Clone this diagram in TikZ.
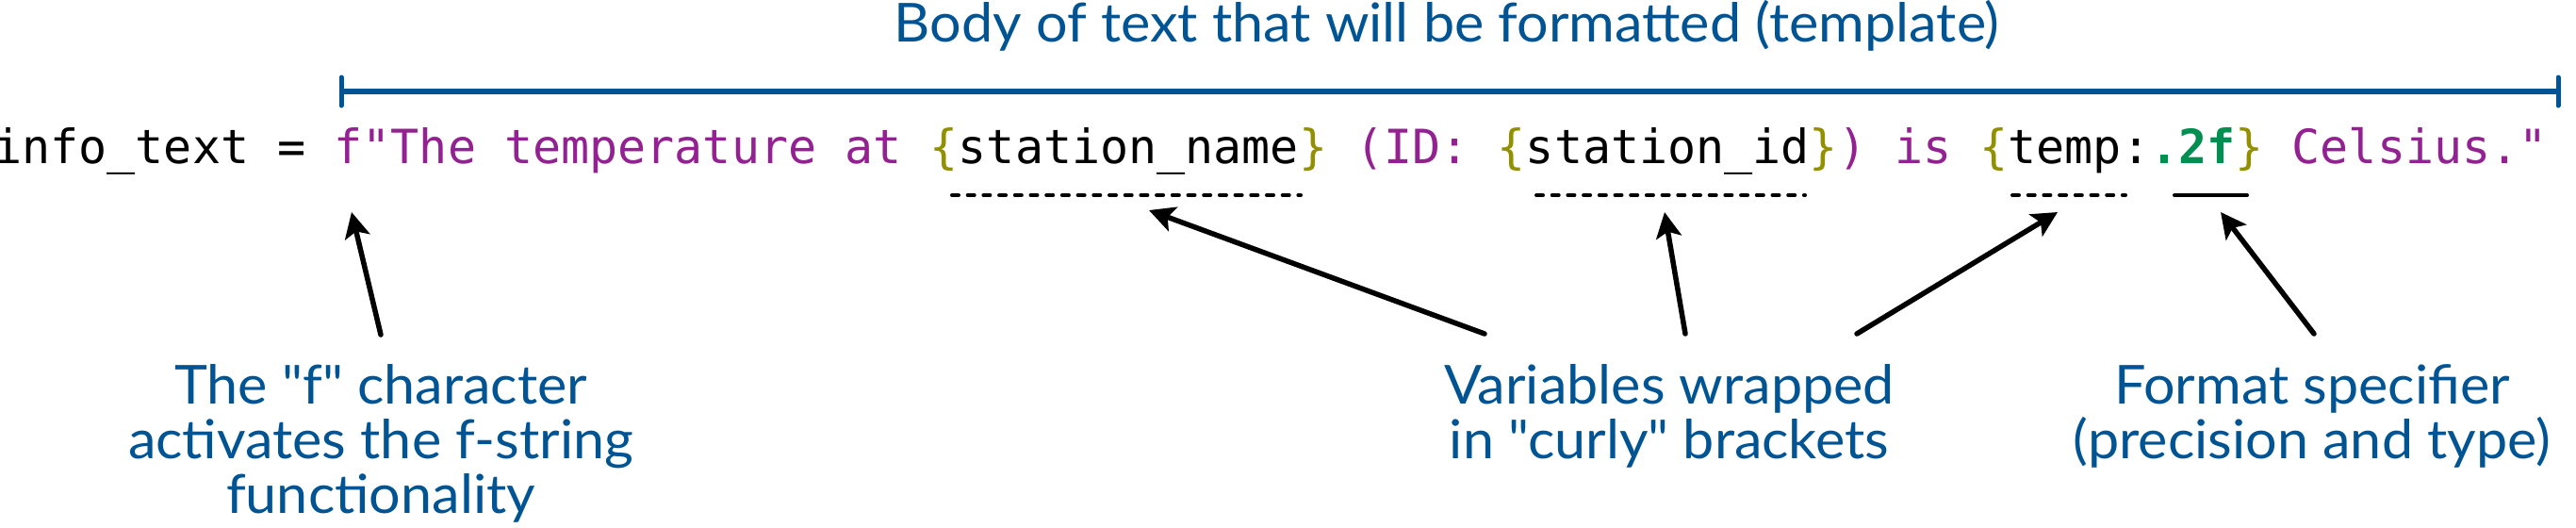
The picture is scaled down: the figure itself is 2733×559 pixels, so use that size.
\documentclass[tikz,border=0pt]{standalone}
\usepackage{fontspec}
\setmainfont[FakeStretch=1.04,Ligatures=TeXOff]{Lato}
\setmonofont{DejaVu Sans Mono}
\usetikzlibrary{arrows.meta,calc}
\definecolor{ocean}{RGB}{0,84,147}
\definecolor{plum}{RGB}{148,33,146}
\definecolor{olivebr}{RGB}{146,144,0}
\definecolor{clover}{RGB}{0,143,81}
\newcommand{\cstr}[1]{\textcolor{plum}{#1}}
\newcommand{\cbr}[1]{\textcolor{olivebr}{#1}}
\tikzset{
  lbl/.style={text=ocean, align=center, inner sep=0pt, anchor=base,
    font=\fontsize{28.5pt}{29pt}\selectfont,
    execute at begin node={\baselineskip=29pt\lineskiplimit=-100pt}},
  codetext/.style={inner sep=0pt, anchor=base west,
    font=\fontsize{25pt}{30pt}\selectfont\ttfamily},
  conn/.style={draw=black, line width=2.75pt, line cap=round,
    -{Stealth[length=13.5pt,width=13.5pt,inset=3pt]}},
  dotline/.style={draw=black, line width=2pt, line cap=round,
    dash pattern=on 3.5pt off 4.85pt},
  solidline/.style={draw=black, line width=2pt, line cap=round},
  spanbar/.style={draw=ocean, line width=3pt},
  spantick/.style={draw=ocean, line width=2.5pt, line cap=round},
}
\begin{document}
\begin{tikzpicture}[x=0.5pt, y=-0.5pt]
\useasboundingbox (0,0) rectangle (2733,559);

% title and span bar
\node[lbl] (title) at (1535,44) {Body of text that will be formatted (template)};
\coordinate (bl) at (362,97);
\coordinate (br) at (2714,97);
\draw[spanbar] (bl) -- (br);
\draw[spantick] ($(bl)+(0,-15)$) -- ($(bl)+(0,15)$);
\draw[spantick] ($(br)+(0,-15)$) -- ($(br)+(0,15)$);

% code line
\node[codetext] (code) at (-7,173) {info\_text = \cstr{f"The temperature at }\cbr{\{}station\_name\cbr{\}} \cstr{(ID: }\cbr{\{}station\_id\cbr{\}}\cstr{) is }\cbr{\{}temp:\textcolor{clover}{\bfseries .2f}\cbr{\}} \cstr{Celsius."}};

% underlines
\coordinate (u1a) at (1010,207); \coordinate (u1b) at (1380,207);
\coordinate (u2a) at (1630,207); \coordinate (u2b) at (1915,207);
\coordinate (u3a) at (2135,207); \coordinate (u3b) at (2255,207);
\coordinate (u4a) at (2307,207); \coordinate (u4b) at (2384,207);
\draw[dotline] (u1a) -- (u1b);
\draw[dotline] (u2a) -- (u2b);
\draw[dotline] (u3a) -- (u3b);
\draw[solidline] (u4a) -- (u4b);

% labels (base anchor = baseline of last line)
\node[lbl] (lab1) at (404,544) {The "f" character\\activates the f-string\\functionality};
\node[lbl] (lab2) at (1771,486) {Variables wrapped\\in "curly" brackets};
\node[lbl] (lab3) at (2453,486) {Format specifier\\(precision and type)};

% arrows
\coordinate (t1) at (404,355); \coordinate (h1) at (373,225);
\coordinate (t2) at (1575,354); \coordinate (h2) at (1219,223);
\coordinate (t3) at (1788,354); \coordinate (h3) at (1766,225);
\coordinate (t4) at (1970,354); \coordinate (h4) at (2183,225);
\coordinate (t5) at (2455,354); \coordinate (h5) at (2356,225);
\draw[conn] (t1) -- (h1);
\draw[conn] (t2) -- (h2);
\draw[conn] (t3) -- (h3);
\draw[conn] (t4) -- (h4);
\draw[conn] (t5) -- (h5);
\end{tikzpicture}
\end{document}
